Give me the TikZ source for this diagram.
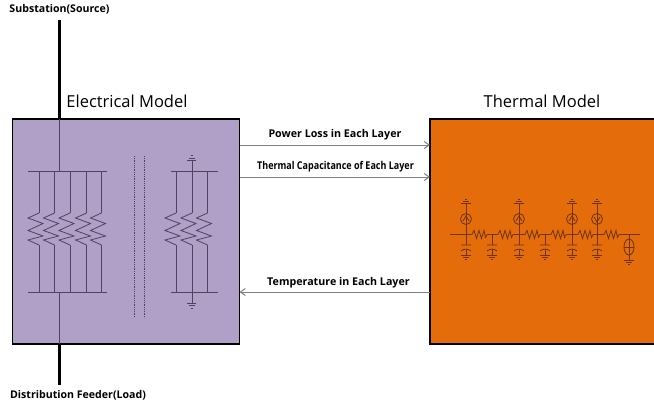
\documentclass[tikz,border=0pt]{standalone}
\usepackage{fontspec}
\setmainfont{Open Sans}
\usetikzlibrary{arrows.meta}
\definecolor{elecfill}{HTML}{B09FC6}
\definecolor{thermfill}{HTML}{E46C0A}
\definecolor{elecwire}{HTML}{4F4360}
\definecolor{thermwire}{HTML}{6E3405}
\tikzset{
  modelbox/.style={draw=black,line width=1.4pt,inner sep=0pt},
  modeltitle/.style={inner sep=0pt,font=\fontsize{16.5}{18}\selectfont},
  feedlabel/.style={inner sep=0pt,font=\fontsize{10.6}{12}\selectfont\bfseries},
  flowlabel/.style={inner sep=0pt,font=\fontsize{10.7}{12}\selectfont\bfseries},
  signal/.style={draw=gray,line width=1pt,->,>={Straight Barb[length=5pt,width=7pt]}},
  feeder/.style={line width=2.6pt,draw=black},
  ewire/.style={draw=elecwire,line width=0.8pt},
  twire/.style={draw=thermwire,line width=0.8pt},
  ezig/.pic={\draw[ewire] (0,-16) -- (-11,-11) -- (4,-5.5) -- (-11,1.5) -- (4,7) -- (-11,11) -- (0,16);},
  tzig/.pic={\draw[twire] (-7.5,0) -- (-5.5,-4) -- (-3,4) -- (-0.5,-4) -- (2,4) -- (4.5,-4) -- (6,3) -- (7.5,0);},
  tgnd/.pic={\draw[twire] (-5,0) -- (5,0) (-3,2) -- (3,2) (-1,4) -- (1,4);},
  tcap/.pic={\draw[twire] (-5,0) -- (5,0) (-5,6) .. controls (-2,3.5) and (2,3.5) .. (5,6);},
  tsrc/.pic={\draw[twire] (0,0) circle (5.5) (-3,2) -- (0,-3) -- (3,2);}
}
\begin{document}
\begin{tikzpicture}[x=1pt,y=-1pt]
  \useasboundingbox (0,0) rectangle (654,404);
  \clip (0,0) rectangle (654,404);

  % boxes
  \node[modelbox,fill=elecfill,minimum width=227pt,minimum height=225pt] (elecbox) at (126,231.5) {};
  \node[modelbox,fill=thermfill,minimum width=240pt,minimum height=225pt] (thermbox) at (550,231.5) {};
  \node[modeltitle] (electitle) at (127,101) {Electrical Model};
  \node[modeltitle] (thermtitle) at (542,101) {Thermal Model};

  % feeder
  \node[feedlabel] (srclabel) at (59.5,9) {Substation(Source)};
  \node[feedlabel] (loadlabel) at (78,395) {Distribution Feeder(Load)};
  \coordinate (feedtop) at (59.5,20);
  \coordinate (feedbot) at (59.5,385);
  \coordinate (feedin) at (59.5,119);
  \coordinate (feedout) at (59.5,344);
  \draw[feeder] (feedtop) -- (feedin);
  \draw[feeder] (feedout) -- (feedbot);

  % signals
  \coordinate (lossa) at (239.5,145);
  \coordinate (lossb) at (430,145);
  \coordinate (capa) at (239.5,177);
  \coordinate (capb) at (430,177);
  \coordinate (tempa) at (430,292);
  \coordinate (tempb) at (239.5,292);
  \draw[signal] (lossa) -- (lossb);
  \draw[signal] (capa) -- (capb);
  \draw[signal] (tempa) -- (tempb);
  \node[flowlabel] (losslabel) at (335,135) {Power Loss in Each Layer};
  \node[flowlabel,xscale=0.84] (caplabel) at (335.5,167) {Thermal Capacitance of Each Layer};
  \node[flowlabel] (templabel) at (338.5,283) {Temperature in Each Layer};

  % electrical model
  \draw[ewire] (59.5,119) -- (59.5,171);
  \draw[ewire] (59.5,292) -- (59.5,344);
  \draw[ewire] (28,171) -- (107,171);
  \draw[ewire] (28,292) -- (107,292);
  \foreach \x in {39,54.5,70,86.5,101.5}{
    \draw[ewire] (\x,171) -- (\x,213);
    \draw[ewire] (\x,245) -- (\x,292);
    \pic at (\x,229) {ezig};
  }
  \draw[ewire] (171,171) -- (218,171);
  \draw[ewire] (171,292) -- (218,292);
  \foreach \x in {176,192,207.5}{
    \draw[ewire] (\x,171) -- (\x,213);
    \draw[ewire] (\x,245) -- (\x,292);
    \pic at (\x,229) {ezig};
  }
  \draw[ewire] (192,160) -- (192,213);
  \draw[ewire] (192,245) -- (192,303);
  \draw[ewire] (187,160.5) -- (196,160.5) (188.5,158) -- (194.5,158) (190.5,155.5) -- (192.5,155.5);
  \draw[ewire] (187,303) -- (196,303) (188.5,305.5) -- (194.5,305.5) (190.5,308) -- (192.5,308);
  \draw[ewire,densely dotted] (134,156) -- (134,318);
  \draw[ewire,densely dotted] (144,156) -- (144,318);

  % thermal model
  \draw[twire] (450,234.5) -- (472,234.5);
  \draw[twire] (487,234.5) -- (498,234.5);
  \draw[twire] (513,234.5) -- (525,234.5);
  \draw[twire] (540,234.5) -- (551,234.5);
  \draw[twire] (566,234.5) -- (578,234.5);
  \draw[twire] (593,234.5) -- (604,234.5);
  \draw[twire] (619,234.5) -- (640,234.5);
  \foreach \x in {479.5,505.5,532.5,558.5,585.5,611.5}{
    \pic at (\x,234.5) {tzig};
  }
  \foreach \x in {466,519,572,597}{
    \draw[twire] (\x,203) -- (\x,245);
    \pic at (\x,203) [yscale=-1] {tgnd};
  }
  \foreach \x in {466,519,572}{
    \pic at (\x,219) {tsrc};
  }
  \pic at (597,219) [yscale=-1] {tsrc};
  \foreach \x in {466,492,519,545,572,597}{
    \draw[twire] (\x,234.5) -- (\x,245);
    \draw[twire] (\x,249) -- (\x,255);
    \pic at (\x,245) {tcap};
    \pic at (\x,255) {tgnd};
  }
  \draw[twire] (629,234.5) -- (629,260);
  \draw[twire] (629,247) ellipse (5 and 8);
  \draw[twire] (624,247) -- (634,247);
  \pic at (629,260) {tgnd};
\end{tikzpicture}
\end{document}
